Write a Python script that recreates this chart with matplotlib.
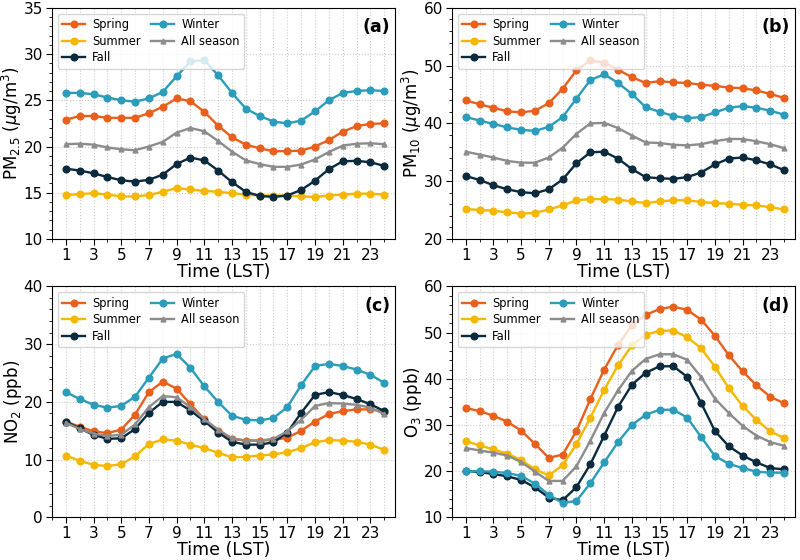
import numpy as np
import matplotlib
matplotlib.use('Agg')
from matplotlib import pyplot as plt
from matplotlib.ticker import MultipleLocator, AutoMinorLocator

##==============================================================================
## Diurnal cycle of pollutants by season
##==============================================================================
hours = np.arange(1, 25)

seasons = ['Spring', 'Summer', 'Fall', 'Winter', 'All season']

# PM2.5 (ug/m3)
pm25_spring = [22.9, 23.3, 23.3, 23.1, 23.1, 23.1, 23.6, 24.3, 25.2, 24.9, 23.75, 22.25,
               21.0, 20.2, 19.8, 19.5, 19.5, 19.55, 20.0, 20.7, 21.6, 22.2, 22.45, 22.5]
pm25_summer = [14.75, 14.85, 14.95, 14.8, 14.6, 14.6, 14.75, 15.1, 15.5, 15.35, 15.2, 15.1,
               14.95, 14.8, 14.7, 14.7, 14.7, 14.6, 14.55, 14.7, 14.8, 14.9, 14.9, 14.8]
pm25_fall = [17.6, 17.4, 17.1, 16.7, 16.35, 16.2, 16.4, 16.95, 18.1, 18.8, 18.5, 17.4,
             16.15, 15.1, 14.65, 14.55, 14.7, 15.3, 16.3, 17.55, 18.4, 18.45, 18.3, 17.9]
pm25_winter = [25.8, 25.8, 25.65, 25.3, 25.0, 24.85, 25.2, 25.9, 27.6, 29.2, 29.35, 27.7,
               25.8, 24.1, 23.3, 22.7, 22.5, 22.8, 23.8, 25.0, 25.8, 26.0, 26.1, 26.0]
pm25_all = [20.25, 20.3, 20.2, 19.9, 19.7, 19.6, 20.0, 20.5, 21.5, 22.0, 21.65, 20.6,
            19.45, 18.5, 18.1, 17.8, 17.8, 18.05, 18.6, 19.4, 20.1, 20.3, 20.35, 20.25]

# PM10 (ug/m3)
pm10_spring = [44.0, 43.3, 42.7, 42.1, 41.9, 42.2, 43.5, 46.0, 49.2, 50.9, 50.5, 49.3,
               48.0, 47.0, 47.3, 47.1, 47.0, 46.7, 46.5, 46.2, 46.1, 45.7, 45.1, 44.4]
pm10_summer = [25.2, 25.0, 24.9, 24.6, 24.4, 24.5, 25.1, 25.8, 26.7, 26.9, 26.9, 26.8,
               26.5, 26.2, 26.5, 26.7, 26.7, 26.4, 26.2, 26.1, 25.9, 25.8, 25.5, 25.1]
pm10_fall = [30.9, 30.2, 29.3, 28.6, 28.1, 27.9, 28.6, 30.3, 33.1, 35.0, 35.1, 33.9,
             32.1, 30.7, 30.5, 30.4, 30.7, 31.5, 32.9, 33.9, 34.1, 33.6, 32.9, 31.9]
pm10_winter = [41.1, 40.5, 39.9, 39.3, 38.9, 38.7, 39.4, 41.1, 44.3, 47.5, 48.5, 47.0,
               45.1, 42.8, 42.0, 41.3, 40.9, 41.1, 41.9, 42.7, 43.0, 42.7, 42.2, 41.5]
pm10_all = [35.1, 34.6, 34.1, 33.5, 33.2, 33.2, 34.1, 35.8, 38.2, 40.0, 40.1, 39.2,
            37.9, 36.7, 36.6, 36.3, 36.2, 36.4, 36.9, 37.3, 37.3, 36.9, 36.4, 35.7]

# NO2 (ppb)
no2_spring = [16.6, 15.7, 14.9, 14.6, 15.2, 17.8, 21.7, 23.5, 22.3, 19.6, 17.0, 15.0,
              13.6, 13.3, 13.3, 13.4, 13.8, 15.0, 16.6, 17.9, 18.4, 18.7, 18.7, 18.3]
no2_summer = [10.7, 9.8, 9.1, 8.9, 9.2, 10.6, 12.7, 13.5, 13.3, 12.6, 12.0, 11.2,
              10.4, 10.5, 10.7, 10.9, 11.3, 12.0, 13.0, 13.4, 13.3, 13.1, 12.6, 11.7]
no2_fall = [16.6, 15.4, 14.3, 13.6, 13.7, 15.3, 18.1, 20.0, 20.0, 18.5, 16.7, 14.7,
            13.1, 12.6, 12.6, 13.0, 14.7, 18.1, 21.2, 21.7, 21.2, 20.5, 19.6, 18.4]
no2_winter = [21.7, 20.5, 19.5, 19.0, 19.3, 20.9, 24.2, 27.5, 28.3, 25.9, 22.7, 20.0,
              17.6, 16.9, 16.8, 17.2, 19.1, 22.9, 26.2, 26.6, 26.2, 25.6, 24.7, 23.3]
no2_all = [16.4, 15.3, 14.5, 14.1, 14.3, 16.1, 19.1, 21.0, 20.8, 19.1, 17.0, 15.2,
           13.7, 13.3, 13.3, 13.6, 14.9, 16.9, 19.3, 19.8, 19.7, 19.5, 19.0, 17.9]

# O3 (ppb)
o3_spring = [33.7, 33.0, 32.0, 30.7, 28.8, 25.9, 22.9, 23.6, 28.7, 35.6, 42.0, 47.3,
             51.6, 53.8, 55.1, 55.6, 54.9, 52.8, 49.3, 45.1, 41.6, 38.6, 36.1, 34.7]
o3_summer = [26.5, 25.6, 24.7, 23.8, 22.4, 20.4, 19.1, 21.3, 25.9, 31.6, 37.6, 42.9,
             47.2, 49.5, 50.4, 50.4, 49.0, 46.6, 42.6, 38.0, 34.1, 31.1, 28.6, 27.2]
o3_fall = [20.1, 19.8, 19.4, 18.9, 18.1, 16.5, 14.3, 13.7, 16.6, 21.5, 27.7, 33.9,
           38.7, 41.3, 42.7, 42.7, 40.4, 34.8, 28.7, 25.4, 23.4, 21.9, 20.7, 20.4]
o3_winter = [20.0, 20.0, 19.9, 19.6, 19.0, 17.3, 14.9, 13.1, 13.6, 17.4, 21.9, 26.3,
             30.0, 32.2, 33.3, 33.3, 31.6, 27.4, 23.3, 21.6, 20.7, 19.9, 19.7, 19.7]
o3_all = [25.0, 24.5, 24.0, 23.4, 22.0, 19.9, 17.9, 17.9, 21.1, 26.6, 32.6, 37.5,
          41.7, 44.3, 45.3, 45.3, 44.1, 40.4, 35.7, 32.6, 29.8, 27.7, 26.3, 25.5]

colours = {'Spring': '#e8601c', 'Summer': '#f5b700', 'Fall': '#0b2a3d',
           'Winter': '#2b9cb9', 'All season': '#8c8c8c'}

def plot_panel(ax, series, ymin, ymax, ystep, ylab, panel):
    for name, vals in zip(seasons, series):
        if name == 'All season':
            ax.plot(hours, vals, color = colours[name], marker = '^', ms = 3.5,
                    lw = 1.7, label = name)
        else:
            ax.plot(hours, vals, color = colours[name], marker = 'o', ms = 4.8,
                    lw = 1.7, label = name)
    ax.set_xlim(0, 24.8)
    ax.set_xticks(np.arange(1, 25, 2))
    ax.xaxis.set_minor_locator(MultipleLocator(1))
    ax.yaxis.set_major_locator(MultipleLocator(ystep))
    ax.yaxis.set_minor_locator(AutoMinorLocator(5))
    ax.set_ylim(ymin, ymax)
    ax.grid(True, which = 'both', axis = 'x', color = '#cccccc', ls = ':', lw = 0.8)
    ax.grid(True, which = 'major', axis = 'y', color = '#cccccc', ls = ':', lw = 0.8)
    ax.tick_params(which = 'major', labelsize = 11, length = 4.5, pad = 2)
    ax.tick_params(which = 'minor', length = 2.5)
    ax.set_xlabel('Time (LST)', fontsize = 12.5, labelpad = 0)
    ax.set_ylabel(ylab, fontsize = 12, labelpad = 0)
    ax.legend(loc = 'upper left', ncol = 2, fontsize = 8.3, handlelength = 2.0,
              columnspacing = 0.9, framealpha = 0.8, borderpad = 0.4,
              labelspacing = 0.3, handletextpad = 0.6)
    ax.text(0.985, 0.955, panel, transform = ax.transAxes, ha = 'right', va = 'top',
            fontsize = 12.5, fontweight = 'bold')

fig, axes = plt.subplots(2, 2, figsize = (8, 5.6), dpi = 100)
plt.subplots_adjust(left = 0.065, right = 0.994, top = 0.986, bottom = 0.076,
                    wspace = 0.165, hspace = 0.205)

plot_panel(axes[0, 0], [pm25_spring, pm25_summer, pm25_fall, pm25_winter, pm25_all],
           10, 35, 5, r'PM$_{2.5}$ ($\mu$g/m$^3$)', '(a)')
plot_panel(axes[0, 1], [pm10_spring, pm10_summer, pm10_fall, pm10_winter, pm10_all],
           20, 60, 10, r'PM$_{10}$ ($\mu$g/m$^3$)', '(b)')
plot_panel(axes[1, 0], [no2_spring, no2_summer, no2_fall, no2_winter, no2_all],
           0, 40, 10, r'NO$_2$ (ppb)', '(c)')
plot_panel(axes[1, 1], [o3_spring, o3_summer, o3_fall, o3_winter, o3_all],
           10, 60, 10, r'O$_3$ (ppb)', '(d)')

plt.savefig('out.png', dpi = 100)
